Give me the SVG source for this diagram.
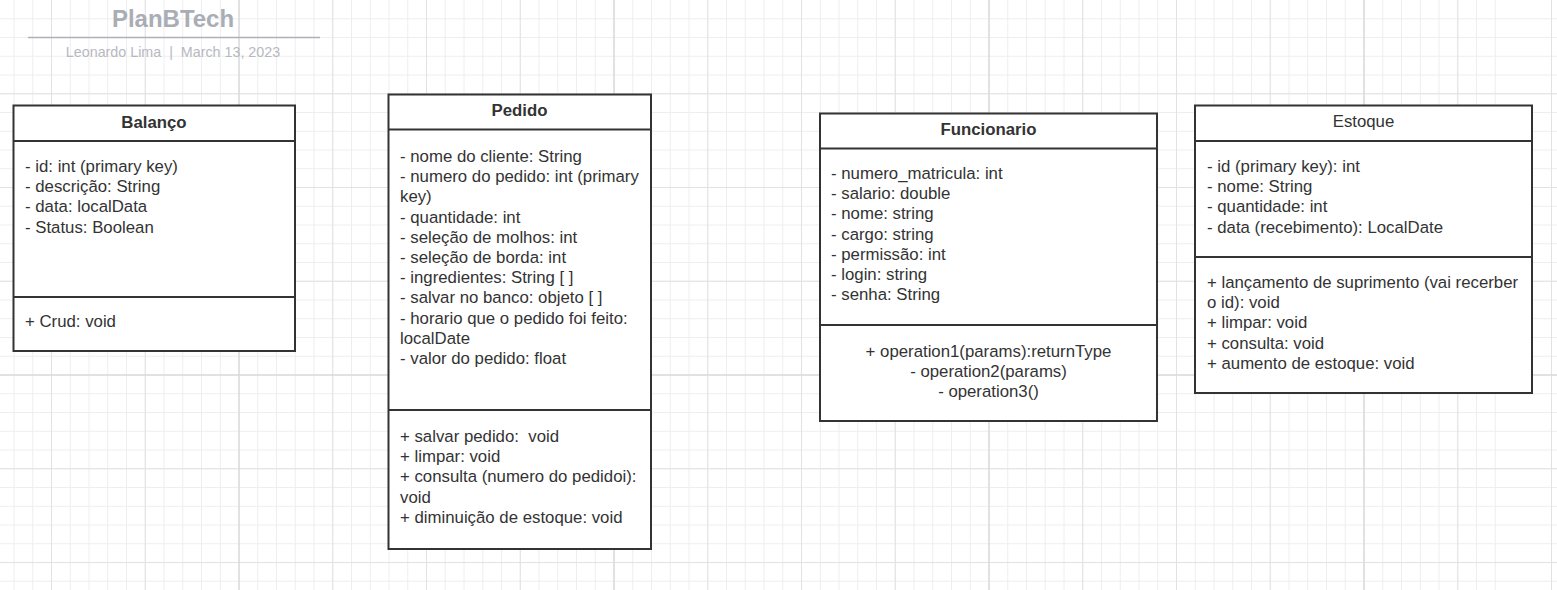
<svg xmlns="http://www.w3.org/2000/svg" width="1557" height="590" viewBox="0 0 1557 590">
<style>
.minor{stroke:#eeeeee;stroke-width:1;fill:none}
.major{stroke:#e2e2e2;stroke-width:1;fill:none}
.page{stroke:#d6d6d6;stroke-width:1;fill:none}
.box{fill:#ffffff;stroke:#333333;stroke-width:2}
.sep{stroke:#333333;stroke-width:2;fill:none}
.t{font-family:"Liberation Sans",Arial,sans-serif;font-size:16.8px;fill:#333333;white-space:pre}
.hb{font-weight:bold;text-anchor:middle}
.hn{text-anchor:middle}
.c{text-anchor:middle}
.title{font-family:"Liberation Sans",Arial,sans-serif;font-size:24px;font-weight:bold;fill:#a9adb5;text-anchor:middle}
.sub{font-family:"Liberation Sans",Arial,sans-serif;font-size:14.3px;fill:#b6b9c0;text-anchor:middle;white-space:pre}
</style>
<rect x="0" y="0" width="1557" height="590" fill="#ffffff"/>
<g id="grid">
<path class="minor" d="M14 0v590m18.75-590v590m18.75-590v590m18.75-590v590m18.75-590v590m18.75-590v590m18.75-590v590m18.75-590v590m18.75-590v590m18.75-590v590m18.75-590v590m18.75-590v590m18.75-590v590m18.75-590v590m18.75-590v590m18.75-590v590m18.75-590v590m18.75-590v590m18.75-590v590m18.75-590v590m18.75-590v590m18.75-590v590m18.75-590v590m18.75-590v590m18.75-590v590m18.75-590v590m18.75-590v590m18.75-590v590m18.75-590v590m18.75-590v590m18.75-590v590m18.75-590v590m18.75-590v590m18.75-590v590m18.75-590v590m18.75-590v590m18.75-590v590m18.75-590v590m18.75-590v590m18.75-590v590m18.75-590v590m18.75-590v590m18.75-590v590m18.75-590v590m18.75-590v590m18.75-590v590m18.75-590v590m18.75-590v590m18.75-590v590m18.75-590v590m18.75-590v590m18.75-590v590m18.75-590v590m18.75-590v590m18.75-590v590m18.75-590v590m18.75-590v590m18.75-590v590m18.75-590v590m18.75-590v590m18.75-590v590m18.75-590v590m18.75-590v590m18.75-590v590m18.75-590v590m18.75-590v590m18.75-590v590m18.75-590v590m18.75-590v590m18.75-590v590m18.75-590v590m18.75-590v590m18.75-590v590m18.75-590v590m18.75-590v590m18.75-590v590m18.75-590v590m18.75-590v590m18.75-590v590m18.75-590v590"/>
<path class="minor" d="M0 18.75h1557m-1557 18.75h1557m-1557 18.75h1557m-1557 18.75h1557m-1557 18.75h1557m-1557 18.75h1557m-1557 18.75h1557m-1557 18.75h1557m-1557 18.75h1557m-1557 18.75h1557m-1557 18.75h1557m-1557 18.75h1557m-1557 18.75h1557m-1557 18.75h1557m-1557 18.75h1557m-1557 18.75h1557m-1557 18.75h1557m-1557 18.75h1557m-1557 18.75h1557m-1557 18.75h1557m-1557 18.75h1557m-1557 18.75h1557m-1557 18.75h1557m-1557 18.75h1557m-1557 18.75h1557m-1557 18.75h1557m-1557 18.75h1557m-1557 18.75h1557m-1557 18.75h1557m-1557 18.75h1557m-1557 18.75h1557"/>
<path class="major" d="M51.5 0v590m93.75-590v590m93.75-590v590m93.75-590v590m93.75-590v590m93.75-590v590m93.75-590v590m93.75-590v590m93.75-590v590m93.75-590v590m93.75-590v590m93.75-590v590m93.75-590v590m93.75-590v590m93.75-590v590m93.75-590v590m93.75-590v590M0 93.75h1557m-1557 93.75h1557m-1557 93.75h1557m-1557 93.75h1557m-1557 93.75h1557m-1557 93.75h1557"/>
<path class="page" d="M239 0v590M614 0v590M989 0v590M1364 0v590M0 375h1557"/>
</g>
<g id="header">
<text class="title" x="173" y="27">PlanBTech</text>
<line x1="28" y1="37.5" x2="320" y2="37.5" stroke="#adb0b8" stroke-width="1.5"/>
<text class="sub" x="173" y="56.5">Leonardo Lima  |  March 13, 2023</text>
</g>
<g id="connectors"></g>
<g id="balanco">
<rect class="box" x="13.5" y="105.5" width="281.5" height="245.5"/>
<path class="sep" d="M13.5 141h281.5M13.5 297h281.5"/>
<text class="t hb" x="154" y="128">Balanço</text>
<text class="t" x="25" y="172">- id: int (primary key)</text>
<text class="t" x="25" y="192.2">- descrição: String</text>
<text class="t" x="25" y="212.4">- data: localData</text>
<text class="t" x="25" y="232.6">- Status: Boolean</text>
<text class="t" x="25" y="327">+ Crud: void</text>
</g>
<g id="pedido">
<rect class="box" x="388.5" y="94.5" width="262.5" height="454.5"/>
<path class="sep" d="M388.5 129.5h262.5M388.5 410h262.5"/>
<text class="t hb" x="519.5" y="116">Pedido</text>
<text class="t" x="400" y="162">- nome do cliente: String</text>
<text class="t" x="400" y="182.2">- numero do pedido: int (primary</text>
<text class="t" x="400" y="202.4">key)</text>
<text class="t" x="400" y="222.6">- quantidade: int</text>
<text class="t" x="400" y="242.8">- seleção de molhos: int</text>
<text class="t" x="400" y="263">- seleção de borda: int</text>
<text class="t" x="400" y="283.2">- ingredientes: String [ ]</text>
<text class="t" x="400" y="303.4">- salvar no banco: objeto [ ]</text>
<text class="t" x="400" y="323.6">- horario que o pedido foi feito:</text>
<text class="t" x="400" y="343.8">localDate</text>
<text class="t" x="400" y="364">- valor do pedido: float</text>
<text class="t" x="400" y="442" xml:space="preserve">+ salvar pedido:  void</text>
<text class="t" x="400" y="462.2">+ limpar: void</text>
<text class="t" x="400" y="482.4">+ consulta (numero do pedidoi):</text>
<text class="t" x="400" y="502.6">void</text>
<text class="t" x="400" y="522.8">+ diminuição de estoque: void</text>
</g>
<g id="funcionario">
<rect class="box" x="820" y="113.5" width="337" height="307.5"/>
<path class="sep" d="M820 148.5h337M820 325h337"/>
<text class="t hb" x="988.5" y="135">Funcionario</text>
<text class="t" x="831" y="179">- numero_matricula: int</text>
<text class="t" x="831" y="199.2">- salario: double</text>
<text class="t" x="831" y="219.4">- nome: string</text>
<text class="t" x="831" y="239.6">- cargo: string</text>
<text class="t" x="831" y="259.8">- permissão: int</text>
<text class="t" x="831" y="280">- login: string</text>
<text class="t" x="831" y="300.2">- senha: String</text>
<text class="t c" x="988.5" y="357">+ operation1(params):returnType</text>
<text class="t c" x="988.5" y="377.2">- operation2(params)</text>
<text class="t c" x="988.5" y="397.4">- operation3()</text>
</g>
<g id="estoque">
<rect class="box" x="1195" y="105.5" width="337" height="287.5"/>
<path class="sep" d="M1195 141h337M1195 257h337"/>
<text class="t hn" x="1363.5" y="127">Estoque</text>
<text class="t" x="1207" y="172">- id (primary key): int</text>
<text class="t" x="1207" y="192.2">- nome: String</text>
<text class="t" x="1207" y="212.4">- quantidade: int</text>
<text class="t" x="1207" y="232.6">- data (recebimento): LocalDate</text>
<text class="t" x="1207" y="288">+ lançamento de suprimento (vai recerber</text>
<text class="t" x="1207" y="308.2">o id): void</text>
<text class="t" x="1207" y="328.4">+ limpar: void</text>
<text class="t" x="1207" y="348.6">+ consulta: void</text>
<text class="t" x="1207" y="368.8">+ aumento de estoque: void</text>
</g>
</svg>
